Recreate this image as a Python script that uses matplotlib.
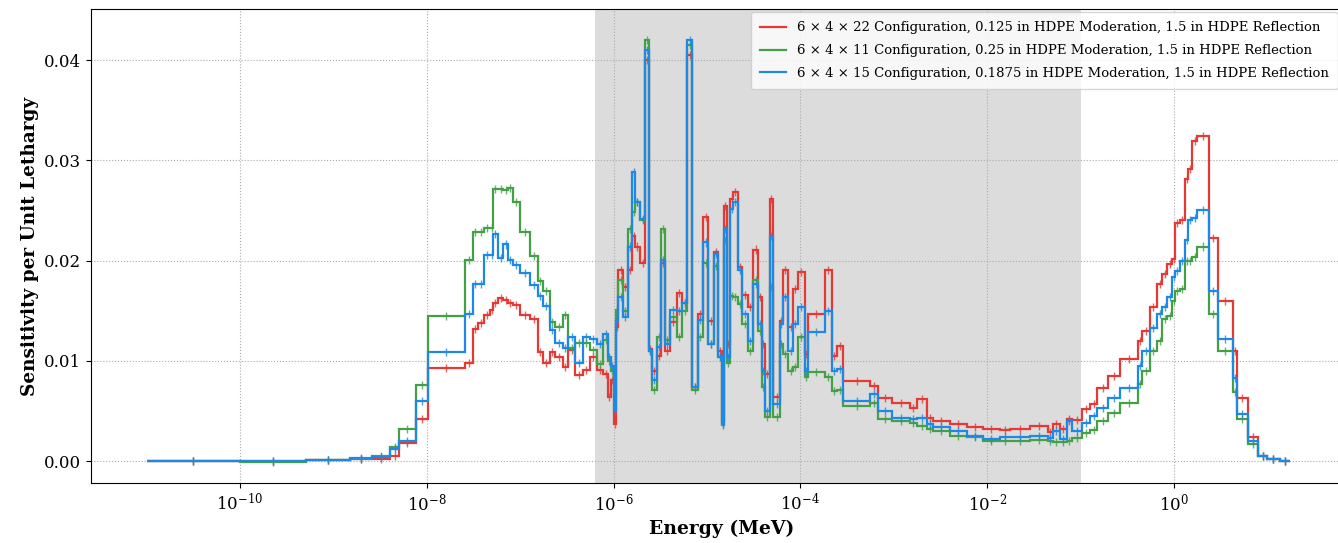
import numpy as np
import matplotlib
matplotlib.use("Agg")
import matplotlib.pyplot as plt

# ---- data -------------------------------------------------------------
# group boundaries, log10(E / MeV)
log_edges = [
    -11.00, -10.00, -9.29, -8.82, -8.59, -8.39, -8.30, -8.12, -7.99, -7.59,
    -7.51, -7.45, -7.39, -7.32, -7.29, -7.24, -7.18, -7.13, -7.08, -7.00,
    -6.90, -6.81, -6.76, -6.68, -6.63, -6.54, -6.49, -6.41, -6.33, -6.25,
    -6.18, -6.11, -6.06, -6.03, -6.00, -5.97, -5.95, -5.90, -5.85, -5.80,
    -5.77, -5.72, -5.66, -5.62, -5.59, -5.54, -5.49, -5.45, -5.40, -5.32,
    -5.27, -5.21, -5.16, -5.10, -5.04, -4.99, -4.93, -4.88, -4.84, -4.82,
    -4.79, -4.75, -4.72, -4.67, -4.63, -4.56, -4.51, -4.45, -4.41, -4.38,
    -4.33, -4.29, -4.22, -4.19, -4.13, -4.08, -4.03, -3.95, -3.92, -3.74,
    -3.66, -3.61, -3.54, -3.25, -3.17, -3.02, -2.83, -2.75, -2.64, -2.58,
    -2.40, -2.22, -2.05, -1.86, -1.76, -1.54, -1.35, -1.30, -1.22, -1.15,
    -1.09, -0.98, -0.90, -0.82, -0.71, -0.58, -0.39, -0.34, -0.26, -0.18,
    -0.13, -0.07, -0.02, 0.01, 0.06, 0.12, 0.15, 0.19, 0.25, 0.37,
    0.47, 0.63, 0.67, 0.79, 0.90, 1.00, 1.13, 1.24,
]

sens_22 = [  # red: 6x4x22, 0.125 in
    0.00002, 0.00003, 0.0001, 0.0002, 0.0002, 0.0005, 0.0018, 0.0042, 0.0093, 0.0098,
    0.0132, 0.0138, 0.0146, 0.0151, 0.0158, 0.0163, 0.0161, 0.0158, 0.0156, 0.0146,
    0.0142, 0.0109, 0.0098, 0.0109, 0.0104, 0.0094, 0.0111, 0.0086, 0.0091, 0.0104,
    0.0091, 0.0087, 0.0064, 0.0081, 0.0037, 0.0134, 0.0191, 0.0174, 0.0191, 0.0224,
    0.0214, 0.0198, 0.0400, 0.0112, 0.0090, 0.0105, 0.0198, 0.0110, 0.0139, 0.0168,
    0.0158, 0.0405, 0.0074, 0.0147, 0.0243, 0.0140, 0.0209, 0.0110, 0.0040, 0.0254,
    0.0117, 0.0261, 0.0268, 0.0194, 0.0166, 0.0154, 0.0211, 0.0164, 0.0117, 0.0087,
    0.0261, 0.0064, 0.0140, 0.0191, 0.0134, 0.0172, 0.0189, 0.0107, 0.0147, 0.0191,
    0.0105, 0.0115, 0.0080, 0.0075, 0.0063, 0.0058, 0.0053, 0.0062, 0.0043, 0.0040,
    0.0037, 0.0034, 0.0032, 0.0031, 0.0032, 0.0035, 0.0029, 0.0037, 0.0032, 0.0042,
    0.0041, 0.0052, 0.0057, 0.0073, 0.0085, 0.0102, 0.0120, 0.0130, 0.0154, 0.0177,
    0.0187, 0.0197, 0.0202, 0.0237, 0.0240, 0.0281, 0.0291, 0.0319, 0.0324, 0.0222,
    0.0160, 0.0110, 0.0063, 0.0024, 0.0005, 0.0002, 0.00005,
]

sens_11 = [  # green: 6x4x11, 0.25 in
    0.00002, -0.00008, 0.0001, 0.0002, 0.0005, 0.0014, 0.0032, 0.0076, 0.0145, 0.0201,
    0.0228, 0.0228, 0.0232, 0.0232, 0.0271, 0.0271, 0.0270, 0.0272, 0.0258, 0.0228,
    0.0205, 0.0180, 0.0170, 0.0139, 0.0134, 0.0146, 0.0113, 0.0118, 0.0118, 0.0111,
    0.0097, 0.0121, 0.0100, 0.0090, 0.0065, 0.0151, 0.0181, 0.0150, 0.0231, 0.0248,
    0.0258, 0.0240, 0.0420, 0.0110, 0.0071, 0.0124, 0.0231, 0.0121, 0.0144, 0.0124,
    0.0150, 0.0415, 0.0071, 0.0124, 0.0198, 0.0117, 0.0195, 0.0104, 0.0036, 0.0220,
    0.0098, 0.0165, 0.0164, 0.0157, 0.0137, 0.0110, 0.0181, 0.0130, 0.0074, 0.0044,
    0.0174, 0.0044, 0.0117, 0.0107, 0.0090, 0.0094, 0.0124, 0.0084, 0.0089, 0.0084,
    0.0070, 0.0071, 0.0055, 0.0058, 0.0042, 0.0040, 0.0038, 0.0035, 0.0032, 0.0030,
    0.0025, 0.0024, 0.0020, 0.0020, 0.0020, 0.0021, 0.0020, 0.0019, 0.0019, 0.0020,
    0.0023, 0.0028, 0.0031, 0.0040, 0.0048, 0.0058, 0.0077, 0.0090, 0.0110, 0.0120,
    0.0142, 0.0145, 0.0160, 0.0170, 0.0172, 0.0200, 0.0200, 0.0204, 0.0214, 0.0147,
    0.0110, 0.0069, 0.0042, 0.0017, 0.0005, 0.0002, 0.00005,
]

sens_15 = [  # blue: 6x4x15, 0.1875 in
    0.00002, 0.00003, 0.0001, 0.0003, 0.0004, 0.0012, 0.0020, 0.0060, 0.0109, 0.0147,
    0.0177, 0.0177, 0.0206, 0.0206, 0.0226, 0.0203, 0.0216, 0.0201, 0.0196, 0.0188,
    0.0176, 0.0165, 0.0155, 0.0131, 0.0118, 0.0113, 0.0124, 0.0098, 0.0124, 0.0122,
    0.0117, 0.0127, 0.0104, 0.0095, 0.0050, 0.0141, 0.0164, 0.0144, 0.0214, 0.0288,
    0.0258, 0.0241, 0.0410, 0.0110, 0.0081, 0.0114, 0.0201, 0.0117, 0.0151, 0.0150,
    0.0158, 0.0420, 0.0074, 0.0141, 0.0218, 0.0117, 0.0207, 0.0104, 0.0037, 0.0231,
    0.0104, 0.0251, 0.0258, 0.0191, 0.0147, 0.0120, 0.0177, 0.0137, 0.0090, 0.0050,
    0.0224, 0.0057, 0.0137, 0.0164, 0.0110, 0.0137, 0.0154, 0.0090, 0.0129, 0.0150,
    0.0090, 0.0092, 0.0060, 0.0067, 0.0050, 0.0043, 0.0042, 0.0043, 0.0037, 0.0034,
    0.0030, 0.0025, 0.0022, 0.0024, 0.0024, 0.0025, 0.0023, 0.0030, 0.0022, 0.0040,
    0.0030, 0.0038, 0.0045, 0.0053, 0.0063, 0.0073, 0.0095, 0.0110, 0.0133, 0.0147,
    0.0154, 0.0164, 0.0184, 0.0190, 0.0200, 0.0220, 0.0240, 0.0242, 0.0250, 0.0170,
    0.0122, 0.0083, 0.0047, 0.0020, 0.0005, 0.0002, 0.00005,
]

# estimated 1-sigma uncertainty of each series
sigma_22 = 0.0004
sigma_11 = 0.0004
sigma_15 = 0.0004

labels = [
    "6 × 4 × 22 Configuration, 0.125 in HDPE Moderation, 1.5 in HDPE Reflection",
    "6 × 4 × 11 Configuration, 0.25 in HDPE Moderation, 1.5 in HDPE Reflection",
    "6 × 4 × 15 Configuration, 0.1875 in HDPE Moderation, 1.5 in HDPE Reflection",
]
colors = ["#e53935", "#43a047", "#1e88e5"]

# intermediate-energy band (MeV)
band_lo, band_hi = 6.25e-7, 0.1

x_ticks = [1e-10, 1e-8, 1e-6, 1e-4, 1e-2, 1e0]
y_ticks = [0.00, 0.01, 0.02, 0.03, 0.04]

# ---- plot -------------------------------------------------------------
plt.rcParams["font.family"] = ["DejaVu Serif"]
plt.rcParams["mathtext.fontset"] = "dejavuserif"

fig = plt.figure(figsize=(13.38, 5.43), dpi=100)
ax = fig.add_axes([91 / 1338, 60 / 543, 1261 / 1338, 474 / 543])

edges = 10.0 ** np.array(log_edges)
centers = np.sqrt(edges[:-1] * edges[1:])

ax.axvspan(band_lo, band_hi, color="#dcdcdc", zorder=0, lw=0)

for vals, sig, col, lab in zip([sens_22, sens_11, sens_15],
                               [sigma_22, sigma_11, sigma_15], colors, labels):
    vals = np.array(vals)
    ax.stairs(vals, edges, color=col, lw=1.6, label=lab, zorder=3)
    ax.errorbar(centers, vals, yerr=sig, fmt="none", ecolor=col,
                elinewidth=1.0, alpha=0.8, zorder=3)

ax.set_xscale("log")
ax.set_xlim(10 ** -11.595, 10 ** 1.906)
ax.set_ylim(-0.00219, 0.04509)
ax.set_xticks(x_ticks)
ax.xaxis.set_minor_locator(matplotlib.ticker.NullLocator())
ax.set_yticks(y_ticks)
ax.yaxis.set_major_formatter(matplotlib.ticker.FormatStrFormatter("%.2f"))
ax.tick_params(labelsize=12)
ax.grid(True, which="major", ls=":", color="#aaaaaa", lw=0.8)

ax.set_xlabel("Energy (MeV)", fontsize=13.5, fontweight="bold")
ax.set_ylabel("Sensitivity per Unit Lethargy", fontsize=13.3, fontweight="bold")

ax.legend(loc="upper right", fontsize=9.5, framealpha=0.8,
          labelspacing=0.75, borderpad=0.7, handlelength=2.0,
          bbox_to_anchor=(1338 / 1338, 1 - 12 / 543),
          bbox_transform=fig.transFigure, borderaxespad=0.0)

fig.savefig("out.png", dpi=100)
